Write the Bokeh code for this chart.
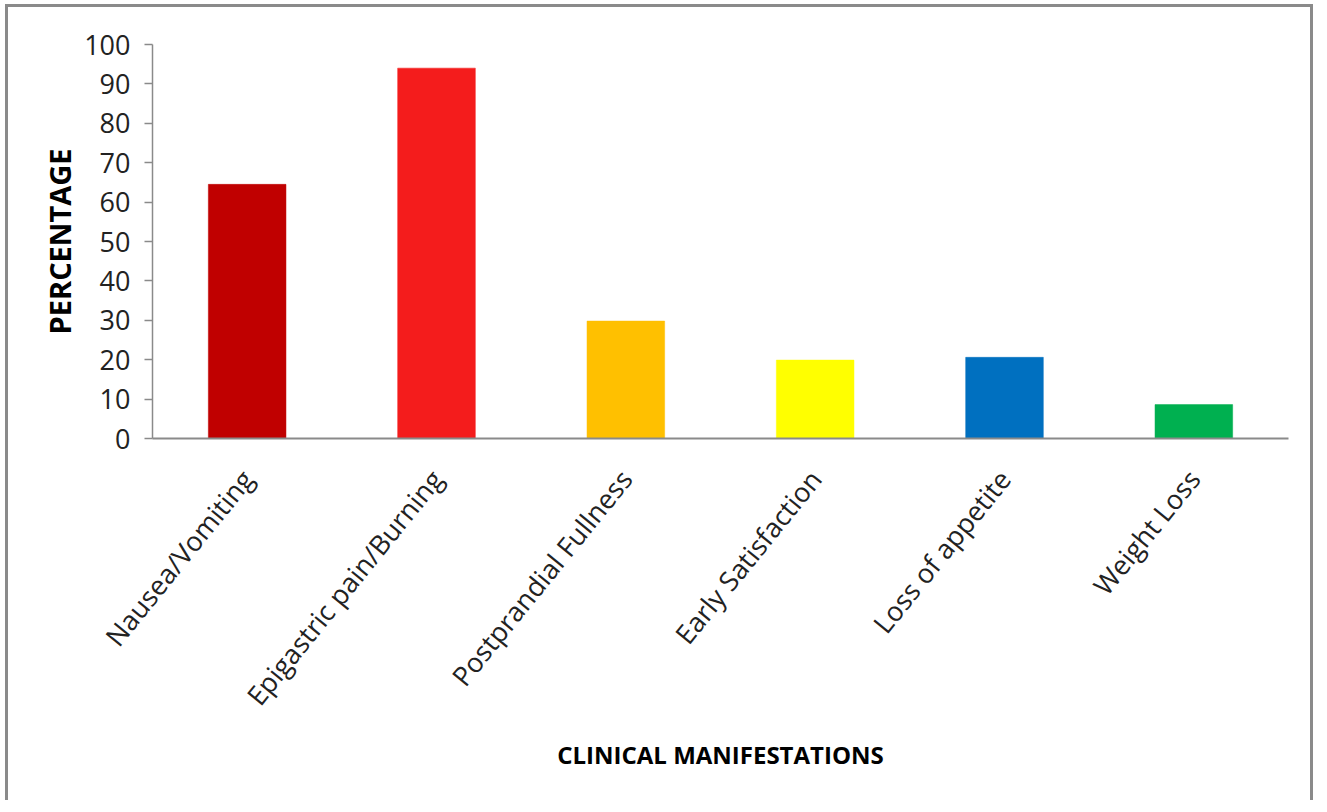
from math import pi
from bokeh.plotting import figure
from bokeh.models import ColumnDataSource, FactorRange, Range1d, FixedTicker
from bokeh.embed import file_html
from bokeh.resources import INLINE

categories = ["Nausea/Vomiting", "Epigastric pain/Burning", "Postprandial Fullness",
              "Early Satisfaction", "Loss of appetite", "Weight Loss"]
percentages = [64.5, 94.0, 29.8, 19.9, 20.6, 8.6]
bar_colors = ["#C00000", "#F41C1C", "#FFC000", "#FFFF00", "#0070C0", "#00B050"]
y_ticks = [0, 10, 20, 30, 40, 50, 60, 70, 80, 90, 100]

source = ColumnDataSource(dict(cat=categories, val=percentages, color=bar_colors))

FONT = "Open Sans"

p = figure(
    width=1308, height=796,
    x_range=FactorRange(*categories, range_padding=0),
    y_range=Range1d(0, 100),
    output_backend="svg", toolbar_location=None,
    min_border_left=144, min_border_right=28, min_border_top=37, min_border_bottom=365,
)
p.styles = {"margin-left": "5px", "margin-top": "4px",
            "border-top": "3px solid #8a8a8a", "border-left": "3px solid #8a8a8a",
            "border-right": "3px solid #8a8a8a"}

p.vbar(x="cat", top="val", width=0.41, color="color", line_color="color",
       line_alpha=0.5, source=source)

p.xgrid.visible = False
p.ygrid.visible = False
p.outline_line_color = None
p.background_fill_color = "white"
p.border_fill_color = "white"

# y axis
ya = p.yaxis[0]
ya.ticker = FixedTicker(ticks=y_ticks)
ya.axis_label = "PERCENTAGE"
ya.axis_label_text_font = FONT
ya.axis_label_text_font_style = "bold"
ya.axis_label_text_font_size = "29px"
ya.axis_label_text_color = "black"
ya.axis_label_standoff = 2
ya.major_label_text_font = FONT
ya.major_label_text_font_size = "27px"
ya.major_label_text_color = "#222222"
ya.major_label_standoff = 14
ya.axis_line_color = "#8a8a8a"
ya.axis_line_width = 1.5
ya.major_tick_line_color = "#8a8a8a"
ya.major_tick_line_width = 1.5
ya.major_tick_out = 8
ya.major_tick_in = 0
ya.minor_tick_line_color = None

# x axis
xa = p.xaxis[0]
xa.axis_label = "CLINICAL MANIFESTATIONS"
xa.axis_label_text_font = FONT
xa.axis_label_text_font_style = "bold"
xa.axis_label_text_font_size = "24px"
xa.axis_label_text_color = "black"
xa.axis_label_standoff = 11
xa.major_label_orientation = 0.89
xa.major_label_text_font = FONT
xa.major_label_text_font_size = "27px"
xa.major_label_text_color = "#222222"
xa.major_label_standoff = 29
xa.axis_line_color = "#8a8a8a"
xa.axis_line_width = 2
xa.major_tick_line_color = None
xa.minor_tick_line_color = None

open("out.html", "w").write(file_html(p, INLINE))
